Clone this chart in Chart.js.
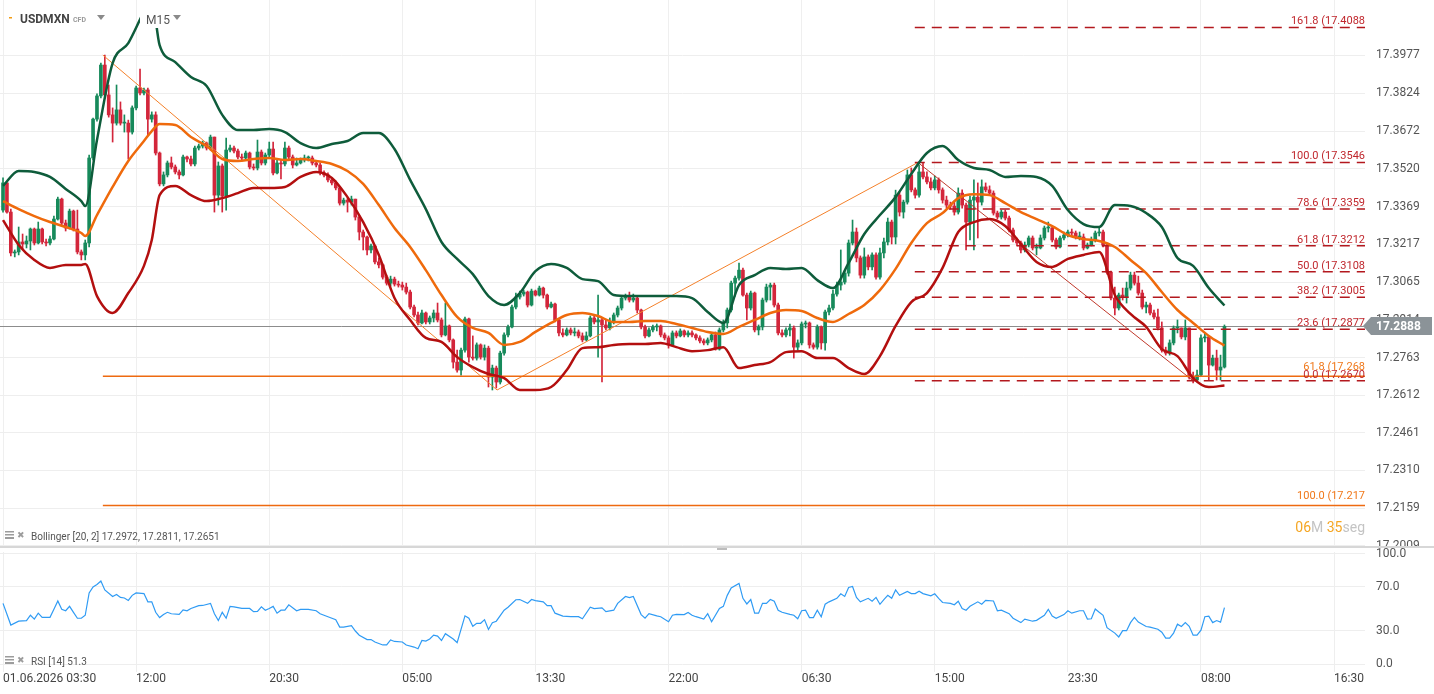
<!DOCTYPE html>
<html>
<head>
<meta charset="utf-8">
<title>USDMXN M15</title>
<script src="https://cdn.jsdelivr.net/npm/chart.js@4.4.1/dist/chart.umd.min.js"></script>
<style>
  html, body { margin: 0; padding: 0; background: #fff; }
  body { width: 1434px; height: 694px; position: relative; overflow: hidden; }
  canvas { position: absolute; left: 0; }
  #mainChart { top: 0; }
  #rsiChart { top: 548px; }
  #sep { position: absolute; left: 0; top: 546px; width: 1434px; height: 2px; background: #d7d7d7; }
  #grip { position: absolute; left: 717px; top: 548px; width: 10px; height: 2px; background: #bdbdbd; }
</style>
</head>
<body>
<canvas id="mainChart" width="1434" height="547"></canvas>
<canvas id="rsiChart" width="1434" height="146"></canvas>
<div id="sep"></div>
<div id="grip"></div>
<script>
/** DATA */
// time axis, one step = one 15 minute bar
var timeTickBars = [0, 34, 68, 102, 136, 170, 204, 238, 272, 306, 340];
var timeTickLabels = ['01.06.2026 03:30', '12:00', '20:30', '05:00', '13:30', '22:00', '06:30', '15:00', '23:30', '08:00', '16:30'];
var priceTicks = [17.2009, 17.2159, 17.2310, 17.2461, 17.2612, 17.2763, 17.2914, 17.3065, 17.3217, 17.3369, 17.3520, 17.3672, 17.3824, 17.3977];
var rsiTicks = [0, 30, 70, 100];

// candles (open = previous close)
var firstOpen = 17.3355;
var closes = [
    17.3464, 17.3347, 17.3183, 17.3187, 17.3227, 17.3219, 17.3231, 17.3279, 17.3223, 17.3279,
    17.3227, 17.3223, 17.3239, 17.3319, 17.3399, 17.3303, 17.3283, 17.3351, 17.3279, 17.3187,
    17.3175, 17.3223, 17.3564, 17.3720, 17.3813, 17.3937, 17.3817, 17.3737, 17.3704, 17.3757,
    17.3704, 17.3704, 17.3668, 17.3765, 17.3845, 17.3825, 17.3837, 17.3720, 17.3737, 17.3584,
    17.3460, 17.3496, 17.3544, 17.3528, 17.3508, 17.3496, 17.3568, 17.3560, 17.3540, 17.3604,
    17.3612, 17.3624, 17.3604, 17.3648, 17.3415, 17.3532, 17.3411, 17.3596, 17.3604, 17.3592,
    17.3568, 17.3564, 17.3584, 17.3528, 17.3524, 17.3588, 17.3544, 17.3576, 17.3600, 17.3504,
    17.3544, 17.3540, 17.3604, 17.3568, 17.3536, 17.3544, 17.3556, 17.3564, 17.3564, 17.3544,
    17.3536, 17.3504, 17.3496, 17.3476, 17.3464, 17.3444, 17.3383, 17.3395, 17.3387, 17.3399,
    17.3327, 17.3267, 17.3247, 17.3195, 17.3211, 17.3147, 17.3135, 17.3086, 17.3062, 17.3078,
    17.3058, 17.3054, 17.3046, 17.3026, 17.2966, 17.2934, 17.2902, 17.2942, 17.2906, 17.2922,
    17.2942, 17.2914, 17.2854, 17.2890, 17.2834, 17.2745, 17.2713, 17.2793, 17.2918, 17.2765,
    17.2761, 17.2814, 17.2765, 17.2801, 17.2685, 17.2721, 17.2665, 17.2781, 17.2854, 17.2886,
    17.2966, 17.3006, 17.3018, 17.3026, 17.2974, 17.3030, 17.3014, 17.3042, 17.3014, 17.2966,
    17.2978, 17.2914, 17.2862, 17.2854, 17.2874, 17.2862, 17.2866, 17.2850, 17.2834, 17.2850,
    17.2922, 17.2906, 17.2914, 17.2894, 17.2882, 17.2906, 17.2934, 17.2962, 17.3002, 17.3010,
    17.2994, 17.3002, 17.2954, 17.2886, 17.2850, 17.2874, 17.2886, 17.2890, 17.2854, 17.2842,
    17.2814, 17.2862, 17.2850, 17.2870, 17.2854, 17.2862, 17.2854, 17.2842, 17.2830, 17.2822,
    17.2834, 17.2854, 17.2797, 17.2874, 17.2902, 17.2954, 17.3062, 17.3082, 17.3114, 17.3014,
    17.2962, 17.3022, 17.2874, 17.2886, 17.2994, 17.3046, 17.3054, 17.2974, 17.2862, 17.2854,
    17.2874, 17.2882, 17.2805, 17.2822, 17.2898, 17.2902, 17.2814, 17.2805, 17.2886, 17.2822,
    17.2946, 17.2962, 17.3018, 17.3054, 17.3066, 17.3102, 17.3223, 17.3267, 17.3163, 17.3094,
    17.3167, 17.3127, 17.3175, 17.3086, 17.3183, 17.3227, 17.3307, 17.3247, 17.3415, 17.3347,
    17.3387, 17.3496, 17.3436, 17.3415, 17.3508, 17.3488, 17.3468, 17.3444, 17.3476, 17.3436,
    17.3395, 17.3375, 17.3371, 17.3347, 17.3423, 17.3375, 17.3307, 17.3395, 17.3407, 17.3387,
    17.3448, 17.3436, 17.3423, 17.3343, 17.3327, 17.3347, 17.3323, 17.3275, 17.3235, 17.3223,
    17.3195, 17.3215, 17.3243, 17.3203, 17.3203, 17.3243, 17.3283, 17.3283, 17.3235, 17.3207,
    17.3243, 17.3255, 17.3267, 17.3263, 17.3247, 17.3247, 17.3203, 17.3215, 17.3235, 17.3263,
    17.3267, 17.3215, 17.3106, 17.3002, 17.2962, 17.3014, 17.3006, 17.3042, 17.3094, 17.3062,
    17.3022, 17.2966, 17.2974, 17.2942, 17.2926, 17.2882, 17.2793, 17.2781, 17.2822, 17.2882,
    17.2882, 17.2846, 17.2882, 17.2685, 17.2673, 17.2693, 17.2842, 17.2846, 17.2733, 17.2761,
    17.2713, 17.2725, 17.2888
];
var highs = [
    17.3484, 17.3464, 17.3359, 17.3195, 17.3287, 17.3259, 17.3251, 17.3283, 17.3283, 17.3307,
    17.3283, 17.3239, 17.3251, 17.3331, 17.3407, 17.3403, 17.3315, 17.3359, 17.3355, 17.3355,
    17.3195, 17.3235, 17.3576, 17.3724, 17.3821, 17.3945, 17.3977, 17.3857, 17.3765, 17.3857,
    17.3789, 17.3737, 17.3716, 17.3773, 17.3853, 17.3921, 17.3845, 17.3845, 17.3749, 17.3749,
    17.3588, 17.3508, 17.3552, 17.3568, 17.3536, 17.3516, 17.3576, 17.3572, 17.3572, 17.3612,
    17.3620, 17.3632, 17.3628, 17.3656, 17.3648, 17.3548, 17.3540, 17.3644, 17.3616, 17.3612,
    17.3600, 17.3580, 17.3592, 17.3588, 17.3540, 17.3636, 17.3596, 17.3584, 17.3628, 17.3628,
    17.3556, 17.3556, 17.3628, 17.3612, 17.3576, 17.3564, 17.3564, 17.3576, 17.3572, 17.3572,
    17.3552, 17.3544, 17.3512, 17.3504, 17.3484, 17.3472, 17.3448, 17.3403, 17.3403, 17.3411,
    17.3399, 17.3335, 17.3275, 17.3251, 17.3219, 17.3215, 17.3163, 17.3139, 17.3094, 17.3090,
    17.3086, 17.3070, 17.3066, 17.3062, 17.3034, 17.2974, 17.2946, 17.2954, 17.2946, 17.2930,
    17.2954, 17.2982, 17.2922, 17.2982, 17.2894, 17.2838, 17.2793, 17.2801, 17.2926, 17.2922,
    17.2850, 17.2822, 17.2818, 17.2814, 17.2809, 17.2733, 17.2729, 17.2789, 17.2862, 17.2894,
    17.2974, 17.3022, 17.3030, 17.3034, 17.3030, 17.3038, 17.3034, 17.3050, 17.3046, 17.3018,
    17.2986, 17.2982, 17.2918, 17.2878, 17.2882, 17.2882, 17.2882, 17.2874, 17.2862, 17.2866,
    17.2930, 17.2934, 17.3014, 17.2922, 17.2914, 17.2922, 17.2942, 17.2970, 17.3010, 17.3018,
    17.3026, 17.3018, 17.3006, 17.2958, 17.2894, 17.2882, 17.2894, 17.2898, 17.2894, 17.2862,
    17.2850, 17.2870, 17.2870, 17.2878, 17.2874, 17.2870, 17.2870, 17.2858, 17.2850, 17.2838,
    17.2842, 17.2862, 17.2866, 17.2882, 17.2914, 17.2962, 17.3070, 17.3090, 17.3142, 17.3122,
    17.3022, 17.3030, 17.3026, 17.2894, 17.3002, 17.3058, 17.3062, 17.3062, 17.2982, 17.2874,
    17.2882, 17.2898, 17.2890, 17.2834, 17.2906, 17.2910, 17.2906, 17.2822, 17.2894, 17.2890,
    17.2954, 17.2974, 17.3034, 17.3066, 17.3195, 17.3114, 17.3235, 17.3315, 17.3283, 17.3171,
    17.3203, 17.3175, 17.3183, 17.3183, 17.3203, 17.3243, 17.3323, 17.3315, 17.3435, 17.3427,
    17.3395, 17.3516, 17.3524, 17.3444, 17.3536, 17.3544, 17.3508, 17.3484, 17.3492, 17.3484,
    17.3444, 17.3411, 17.3387, 17.3391, 17.3444, 17.3436, 17.3383, 17.3411, 17.3476, 17.3464,
    17.3476, 17.3464, 17.3452, 17.3432, 17.3351, 17.3355, 17.3355, 17.3331, 17.3283, 17.3243,
    17.3231, 17.3227, 17.3251, 17.3251, 17.3219, 17.3255, 17.3291, 17.3307, 17.3291, 17.3243,
    17.3251, 17.3267, 17.3275, 17.3279, 17.3271, 17.3267, 17.3259, 17.3223, 17.3247, 17.3271,
    17.3283, 17.3275, 17.3223, 17.3110, 17.3046, 17.3022, 17.3042, 17.3066, 17.3106, 17.3106,
    17.3090, 17.3034, 17.2986, 17.2982, 17.2954, 17.2958, 17.2906, 17.2805, 17.2834, 17.2890,
    17.2914, 17.2882, 17.2914, 17.2882, 17.2705, 17.2713, 17.2854, 17.2862, 17.2850, 17.2773,
    17.2793, 17.2773, 17.2894
];
var lows = [
    17.3347, 17.3343, 17.3171, 17.3167, 17.3175, 17.3195, 17.3203, 17.3195, 17.3215, 17.3219,
    17.3219, 17.3211, 17.3215, 17.3235, 17.3315, 17.3291, 17.3271, 17.3279, 17.3271, 17.3179,
    17.3155, 17.3155, 17.3207, 17.3556, 17.3712, 17.3805, 17.3809, 17.3728, 17.3628, 17.3696,
    17.3696, 17.3668, 17.3560, 17.3660, 17.3757, 17.3817, 17.3817, 17.3656, 17.3708, 17.3576,
    17.3452, 17.3452, 17.3488, 17.3520, 17.3500, 17.3480, 17.3492, 17.3548, 17.3532, 17.3532,
    17.3596, 17.3604, 17.3596, 17.3596, 17.3347, 17.3375, 17.3347, 17.3355, 17.3588, 17.3584,
    17.3560, 17.3556, 17.3556, 17.3520, 17.3516, 17.3516, 17.3536, 17.3536, 17.3568, 17.3496,
    17.3500, 17.3480, 17.3532, 17.3560, 17.3524, 17.3532, 17.3540, 17.3548, 17.3552, 17.3536,
    17.3528, 17.3496, 17.3488, 17.3468, 17.3456, 17.3436, 17.3375, 17.3375, 17.3347, 17.3375,
    17.3315, 17.3235, 17.3195, 17.3175, 17.3183, 17.3139, 17.3123, 17.3078, 17.3054, 17.3050,
    17.3050, 17.3046, 17.3034, 17.3018, 17.2958, 17.2926, 17.2894, 17.2898, 17.2898, 17.2898,
    17.2906, 17.2906, 17.2846, 17.2850, 17.2826, 17.2721, 17.2705, 17.2693, 17.2785, 17.2745,
    17.2753, 17.2753, 17.2757, 17.2753, 17.2645, 17.2633, 17.2641, 17.2657, 17.2773, 17.2846,
    17.2882, 17.2958, 17.2998, 17.3010, 17.2966, 17.2970, 17.3010, 17.3010, 17.3002, 17.2958,
    17.2962, 17.2906, 17.2850, 17.2846, 17.2850, 17.2854, 17.2850, 17.2842, 17.2826, 17.2830,
    17.2846, 17.2898, 17.2765, 17.2665, 17.2874, 17.2874, 17.2898, 17.2926, 17.2954, 17.2994,
    17.2986, 17.2986, 17.2942, 17.2878, 17.2842, 17.2846, 17.2866, 17.2870, 17.2846, 17.2834,
    17.2801, 17.2810, 17.2842, 17.2846, 17.2846, 17.2846, 17.2846, 17.2834, 17.2822, 17.2814,
    17.2814, 17.2826, 17.2793, 17.2793, 17.2866, 17.2882, 17.2946, 17.3010, 17.3074, 17.3010,
    17.2914, 17.2954, 17.2866, 17.2854, 17.2874, 17.2986, 17.2994, 17.2966, 17.2854, 17.2846,
    17.2846, 17.2850, 17.2761, 17.2793, 17.2814, 17.2882, 17.2801, 17.2797, 17.2797, 17.2797,
    17.2793, 17.2934, 17.2954, 17.3010, 17.3034, 17.3058, 17.3090, 17.3215, 17.3147, 17.3082,
    17.3082, 17.3115, 17.3115, 17.3078, 17.3078, 17.3163, 17.3215, 17.3219, 17.3219, 17.3331,
    17.3323, 17.3379, 17.3428, 17.3403, 17.3407, 17.3480, 17.3460, 17.3436, 17.3436, 17.3423,
    17.3383, 17.3363, 17.3359, 17.3335, 17.3339, 17.3363, 17.3195, 17.3235, 17.3195, 17.3243,
    17.3375, 17.3428, 17.3415, 17.3335, 17.3319, 17.3319, 17.3315, 17.3267, 17.3227, 17.3211,
    17.3183, 17.3187, 17.3207, 17.3195, 17.3175, 17.3199, 17.3235, 17.3267, 17.3227, 17.3199,
    17.3203, 17.3235, 17.3247, 17.3251, 17.3239, 17.3235, 17.3195, 17.3199, 17.3211, 17.3227,
    17.3251, 17.3207, 17.3098, 17.2994, 17.2934, 17.2954, 17.2994, 17.2982, 17.3034, 17.3054,
    17.3014, 17.2958, 17.2942, 17.2934, 17.2918, 17.2874, 17.2785, 17.2773, 17.2773, 17.2814,
    17.2862, 17.2838, 17.2834, 17.2677, 17.2661, 17.2665, 17.2689, 17.2826, 17.2673, 17.2729,
    17.2673, 17.2673, 17.2721
];

// Bollinger [20, 2], read at these bars
var bbBars = [0, 4, 8, 12, 16, 20, 21, 24, 28, 32, 36, 38,
    40, 44, 48, 52, 56, 60, 64, 68, 72, 76, 80, 84, 88, 92, 96, 100, 104, 108, 112, 116,
    120, 124, 128, 132, 136, 140, 144, 148, 152, 156, 160, 164, 168, 172, 176, 180, 184, 188, 192, 196,
    200, 204, 208, 212, 216, 220, 224, 228, 232, 236, 240, 244, 248, 252, 256, 260, 264, 268, 272, 276,
    280, 284, 288, 292, 296, 300, 304, 308, 312];
var bbUpper = [17.3452, 17.3512, 17.3508, 17.3488, 17.3440, 17.3391, 17.3371, 17.3636, 17.3945, 17.4025, 17.4150, 17.4198,
    17.4017, 17.3949, 17.3889, 17.3853, 17.3737, 17.3676, 17.3676, 17.3680, 17.3668, 17.3624,
    17.3604, 17.3620, 17.3632, 17.3664, 17.3664, 17.3600, 17.3476, 17.3359, 17.3227, 17.3159,
    17.3098, 17.3010, 17.2974, 17.3022, 17.3110, 17.3139, 17.3123, 17.3078, 17.3070, 17.3014,
    17.3010, 17.3010, 17.3010, 17.3010, 17.3002, 17.2946, 17.2902, 17.3054, 17.3094, 17.3123,
    17.3119, 17.3123, 17.3074, 17.3042, 17.3143, 17.3259, 17.3335, 17.3407, 17.3500, 17.3584,
    17.3612, 17.3556, 17.3524, 17.3516, 17.3488, 17.3492, 17.3488, 17.3452, 17.3355, 17.3299,
    17.3287, 17.3375, 17.3371, 17.3343, 17.3287, 17.3163, 17.3131, 17.3042, 17.2972];
var bbMiddle = [17.3391, 17.3359, 17.3331, 17.3307, 17.3287, 17.3263, 17.3251, 17.3335, 17.3448, 17.3552, 17.3632, 17.3672,
    17.3700, 17.3696, 17.3648, 17.3612, 17.3560, 17.3552, 17.3560, 17.3564, 17.3556, 17.3560,
    17.3552, 17.3540, 17.3512, 17.3460, 17.3375, 17.3283, 17.3207, 17.3114, 17.3014, 17.2926,
    17.2882, 17.2862, 17.2814, 17.2826, 17.2866, 17.2902, 17.2934, 17.2942, 17.2930, 17.2906,
    17.2906, 17.2910, 17.2910, 17.2898, 17.2882, 17.2866, 17.2858, 17.2886, 17.2914, 17.2942,
    17.2954, 17.2950, 17.2922, 17.2906, 17.2938, 17.2974, 17.3034, 17.3119, 17.3223, 17.3303,
    17.3343, 17.3403, 17.3419, 17.3415, 17.3383, 17.3347, 17.3319, 17.3291, 17.3255, 17.3239,
    17.3231, 17.3207, 17.3155, 17.3102, 17.3026, 17.2954, 17.2902, 17.2850, 17.2811];
var bbLower = [17.3315, 17.3215, 17.3155, 17.3123, 17.3135, 17.3135, 17.3139, 17.3010, 17.2942, 17.3022, 17.3131, 17.3235,
    17.3415, 17.3452, 17.3415, 17.3391, 17.3403, 17.3423, 17.3444, 17.3444, 17.3448, 17.3488,
    17.3508, 17.3484, 17.3407, 17.3307, 17.3175, 17.3002, 17.2914, 17.2842, 17.2826, 17.2765,
    17.2725, 17.2697, 17.2681, 17.2633, 17.2633, 17.2645, 17.2713, 17.2801, 17.2805, 17.2814,
    17.2818, 17.2818, 17.2822, 17.2805, 17.2789, 17.2793, 17.2805, 17.2721, 17.2733, 17.2745,
    17.2785, 17.2789, 17.2761, 17.2761, 17.2721, 17.2697, 17.2769, 17.2890, 17.2986, 17.3022,
    17.3123, 17.3267, 17.3307, 17.3319, 17.3291, 17.3219, 17.3147, 17.3127, 17.3159, 17.3175,
    17.3187, 17.3014, 17.2938, 17.2886, 17.2797, 17.2769, 17.2681, 17.2645, 17.2651];

// RSI [14]
var rsiBars = [0, 2, 4, 6, 7, 8, 9, 10, 12, 13, 14, 15, 16, 17, 18, 19, 20, 21, 22, 23,
    24, 25, 26, 28, 29, 30, 31, 32, 33, 34, 36, 37, 38, 39, 40, 41, 42, 43, 45, 46,
    47, 48, 50, 51, 53, 54, 55, 56, 57, 58, 59, 61, 63, 64, 65, 66, 67, 68, 69, 70,
    71, 72, 73, 75, 76, 78, 80, 81, 83, 85, 86, 87, 89, 90, 91, 93, 94, 95, 97, 98,
    99, 100, 102, 103, 105, 106, 107, 108, 109, 110, 111, 112, 113, 115, 116, 118, 119, 120, 121, 122,
    123, 124, 125, 126, 128, 129, 131, 132, 134, 135, 136, 138, 139, 140, 141, 143, 145, 147, 148, 150,
    151, 153, 154, 156, 157, 159, 160, 161, 163, 164, 165, 167, 168, 170, 171, 172, 174, 175, 176, 177,
    179, 180, 181, 183, 184, 185, 186, 188, 189, 190, 191, 192, 193, 194,
    195, 196, 197, 198, 199, 201, 202, 203, 204, 205, 206, 207, 208, 209, 210, 211, 213, 214, 215, 216,
    217, 218, 219, 221, 222, 223, 224, 225, 226, 227, 228, 229, 231, 232, 233, 234, 235, 237, 238, 239,
    240, 242, 243, 244, 245, 246, 247, 249, 250, 251, 253, 254, 255, 257, 258, 260, 261, 263, 264, 266,
    267, 268, 269, 271, 272, 273, 275, 276, 277, 278, 279, 280, 281, 282, 284, 285, 286, 287, 288, 289,
    290, 292, 293, 295, 296, 297, 298, 299, 300, 301, 302, 303, 304, 305, 306, 307, 308, 309, 310, 311, 312];
var rsiValues = [55.1, 35.4, 39, 39.5, 44.3, 40.8, 46.2, 42.4, 42.4, 49.7, 57.3, 49.7, 48.4, 52.4, 47, 41.6, 41.6, 44.3, 64.6, 70,
    72.2, 75.4, 67.3, 61.4, 63.2, 60.5, 60, 57.8, 62.4, 64.6, 64, 56.5, 56.5, 47, 42.2, 44.9, 47, 45.7, 45.1, 49.2,
    48.4, 50.5, 53, 53.2, 55.1, 45.7, 39.5, 47, 41.6, 52.4, 51.9, 50.5, 50.5, 47.6, 47.8, 51.9, 48.9, 50.5, 52.4, 46.2,
    48.9, 48.9, 53.8, 48.4, 49.7, 49.7, 48.4, 45.7, 43, 40.3, 33.5, 33.5, 34.9, 30, 26.2, 22.2, 22.2, 20, 17.3, 17.3,
    21.9, 20.5, 20, 17.3, 15.4, 13.8, 21.4, 20.8, 22.7, 26.2, 25.4, 21.4, 27.6, 22.7, 19.5, 43.8, 41.6, 34.3, 37, 37,
    40.3, 31.4, 37.6, 38.9, 48.9, 51.6, 58.4, 58.6, 55.1, 58.6, 57.6, 56.5, 53, 53, 46.2, 43.5, 43, 43, 41.1, 51.6,
    50.3, 51.1, 47.6, 48.9, 55.1, 61.4, 60.3, 61.4, 44.9, 41.6, 45.7, 43.8, 43, 38.4, 44.3, 45.1, 44.9, 46.8, 44.3, 43,
    40.8, 45.7, 38.4, 50.5, 52.4, 62.4, 69.2, 73.2, 59.7, 54.6, 58.6, 46.2, 46.2, 55.1,
    55.1, 58.6, 57, 48.9, 47, 45.1, 44.3, 41.1, 48.4, 48.9, 42.2, 42.2, 48.9, 43, 54.3, 56.5, 59.7, 63.8, 61.4, 69.5,
    70.5, 60.5, 56.5, 59.7, 57, 60.5, 54.3, 58.6, 62.4, 59.7, 67.3, 62.4, 65.9, 64, 64, 66.2, 64, 61.9, 63.8, 59.7,
    55.9, 55.1, 53.8, 57, 50.5, 48.9, 52.4, 56.5, 54.3, 57.8, 57.3, 48.4, 48.9, 45.7, 41.6, 37.6, 40.8, 38.9, 39.7, 44.3,
    49.7, 43.5, 41.6, 44.9, 48.4, 46.2, 48.4, 48.4, 40.8, 41.1, 50, 47, 44.3, 33, 28.1, 24.6, 30.3, 30.3, 37.6, 42.4,
    38.1, 34.1, 33.5, 31.6, 28.9, 23.5, 23.5, 28.1, 36.2, 34.1, 37.6, 34.3, 26.2, 26.2, 30.8, 43, 43.5, 37.6, 39.5, 38.1, 51.3];

// fibonacci retracement drawn from the 15:00 high
var fibLevels = ['161.8', '100.0', '78.6', '61.8', '50.0', '38.2', '23.6', '0.0'];
var fibPrices = [17.4088, 17.3546, 17.3359, 17.3212, 17.3108, 17.3005, 17.2877, 17.2670];
var fibStartBar = 232.9;
// older fibonacci (orange)
var extLevels = ['61.8', '100.0'];
var extPrices = [17.2688, 17.2170];
var extStartBar = 25.5;
// trend lines
var trendBars = [25.5, 126.2, 233.7];
var trendPrices = [17.3977, 17.2633, 17.3546];
var downBars = [233.7, 304];
var downPrices = [17.3546, 17.2670];

/** SETUP */
Chart.defaults.font.family = "Roboto, 'Noto Sans', sans-serif";
var xMin = -0.77, xMax = 347.9;
var lastPrice = closes[closes.length - 1];
var greenColor = '#178a5b', redColor = '#d3263b';

var opens = closes.map(function(c, i) { return i === 0 ? firstOpen : closes[i - 1]; });
var candleColors = closes.map(function(c, i) { return c >= opens[i] ? greenColor : redColor; });
var bodyData = closes.map(function(c, i) { return {x: i, y: [opens[i], c]}; });
var wickData = closes.map(function(c, i) { return {x: i, y: [lows[i], highs[i]]}; });

function pts(xs, ys) {
    return xs.map(function(x, i) { return {x: x, y: ys[i]}; });
}
function hline(x0, price) {
    return [{x: x0, y: price}, {x: xMax + 1, y: price}];
}

var datasets = [
    {type: 'line', data: pts(bbBars, bbUpper), borderColor: '#0e5c3b', borderWidth: 2.5, order: 1},
    {type: 'line', data: pts(bbBars, bbMiddle), borderColor: '#ef6a0c', borderWidth: 2.5, order: 1},
    {type: 'line', data: pts(bbBars, bbLower), borderColor: '#b30f0f', borderWidth: 2.5, order: 1},
    {type: 'line', data: pts(trendBars, trendPrices), borderColor: '#f4802a', borderWidth: 1, tension: 0, order: 3},
    {type: 'line', data: pts(downBars, downPrices), borderColor: '#c0392b', borderWidth: 1, tension: 0, order: 3}
];
fibPrices.forEach(function(p) {
    datasets.push({type: 'line', data: hline(fibStartBar, p), borderColor: '#b3181e', borderWidth: 1.5,
        borderDash: [10, 7], tension: 0, order: 2});
});
extPrices.forEach(function(p) {
    datasets.push({type: 'line', data: hline(extStartBar, p), borderColor: '#ee6a10', borderWidth: 1.5, tension: 0, order: 2});
});
datasets.forEach(function(d) {
    d.pointRadius = 0;
    d.fill = false;
    if (d.tension === undefined) {
        d.cubicInterpolationMode = 'monotone';
    }
});
datasets.push({type: 'bar', data: bodyData, backgroundColor: candleColors, barThickness: 3, grouped: false,
    minBarLength: 1, borderWidth: 0, order: 10});
datasets.push({type: 'bar', data: wickData, backgroundColor: candleColors, barThickness: 1, grouped: false,
    borderWidth: 0, order: 11});

function timeTicks(scale) {
    scale.ticks = timeTickBars.map(function(v) { return {value: v}; });
}

//texts, tags and labels of the price panel
var mainOverlay = {
    id: 'mainOverlay',
    beforeDatasetsDraw: function(chart) {
        var ctx = chart.ctx, area = chart.chartArea;
        var y = Math.round(chart.scales.y.getPixelForValue(lastPrice)) + 0.5;
        ctx.save();
        ctx.strokeStyle = '#8c8c8c';
        ctx.lineWidth = 1;
        ctx.beginPath();
        ctx.moveTo(area.left, y);
        ctx.lineTo(area.right, y);
        ctx.stroke();
        ctx.restore();
    },
    afterDraw: function(chart) {
        var ctx = chart.ctx, area = chart.chartArea, ys = chart.scales.y;
        ctx.save();
        ctx.textAlign = 'right';
        ctx.textBaseline = 'alphabetic';
        ctx.font = '11px Roboto, sans-serif';
        ctx.fillStyle = '#c0272d';
        fibLevels.forEach(function(lv, i) {
            var y = ys.getPixelForValue(fibPrices[i]);
            ctx.fillText(lv + ' (' + fibPrices[i].toFixed(4), area.right, y - 3);
        });
        ctx.fillStyle = '#f0781a';
        extLevels.forEach(function(lv, i) {
            var y = ys.getPixelForValue(extPrices[i]);
            var txt = (Math.floor(extPrices[i] * 1000 + 1e-6) / 1000).toFixed(3);
            ctx.fillText(lv + ' (' + txt, area.right, y - 6);
        });

        //symbol header
        ctx.fillStyle = '#ffffff';
        ctx.fillRect(140, 0, 50, 28);
        ctx.textAlign = 'left';
        ctx.fillStyle = '#f39c12';
        ctx.fillRect(9, 17, 3, 1.5);
        ctx.fillStyle = '#444';
        ctx.font = 'bold 12px Roboto, sans-serif';
        ctx.fillText('USDMXN', 20, 23);
        ctx.fillStyle = '#9a9a9a';
        ctx.font = 'bold 7px Roboto, sans-serif';
        ctx.fillText('CFD', 73, 22);
        ctx.fillStyle = '#555';
        ctx.font = '12px Roboto, sans-serif';
        ctx.fillText('M15', 146, 24);
        ctx.fillStyle = '#8a8a8a';
        [97, 173].forEach(function(x) {
            ctx.beginPath();
            ctx.moveTo(x, 15);
            ctx.lineTo(x + 8, 15);
            ctx.lineTo(x + 4, 20);
            ctx.closePath();
            ctx.fill();
        });

        //indicator legend
        drawIndicatorIcon(ctx, 536);
        ctx.fillStyle = '#555';
        ctx.font = '10px Roboto, sans-serif';
        ctx.fillText('Bollinger [20, 2] ' + bbUpper[bbUpper.length - 1].toFixed(4) + ', ' +
            bbMiddle[bbMiddle.length - 1].toFixed(4) + ', ' + bbLower[bbLower.length - 1].toFixed(4), 31, 540);

        //candle countdown
        var parts = [['06', '#f5a623'], ['M ', '#c4c4c4'], ['35', '#f5a623'], ['seg', '#c4c4c4']];
        ctx.font = '14px Roboto, sans-serif';
        var total = 0;
        parts.forEach(function(p) { total += ctx.measureText(p[0]).width; });
        var tx = area.right - total;
        parts.forEach(function(p) {
            ctx.fillStyle = p[1];
            ctx.fillText(p[0], tx, 532);
            tx += ctx.measureText(p[0]).width;
        });

        //last price tag
        var py = Math.round(ys.getPixelForValue(lastPrice));
        ctx.fillStyle = '#8b9398';
        ctx.beginPath();
        ctx.moveTo(area.right - 2, py);
        ctx.lineTo(area.right + 6, py - 9);
        ctx.lineTo(1432, py - 9);
        ctx.lineTo(1432, py + 9);
        ctx.lineTo(area.right + 6, py + 9);
        ctx.closePath();
        ctx.fill();
        ctx.fillStyle = '#ffffff';
        ctx.font = 'bold 12px Roboto, sans-serif';
        ctx.textBaseline = 'middle';
        ctx.fillText(lastPrice.toFixed(4), area.right + 11, py + 1);
        ctx.restore();
    }
};

function drawIndicatorIcon(ctx, y) {
    ctx.save();
    ctx.fillStyle = '#9c9c9c';
    ctx.fillRect(5, y - 5, 9, 1.5);
    ctx.fillRect(5, y - 2, 9, 1.5);
    ctx.fillRect(5, y + 1, 9, 2);
    ctx.font = 'bold 9px DejaVu Sans, sans-serif';
    ctx.textAlign = 'left';
    ctx.textBaseline = 'middle';
    ctx.fillText('\u2716', 17, y);
    ctx.restore();
}

var rsiOverlay = {
    id: 'rsiOverlay',
    afterDraw: function(chart) {
        var ctx = chart.ctx;
        drawIndicatorIcon(ctx, 113);
        ctx.save();
        ctx.fillStyle = '#555';
        ctx.font = '10px Roboto, sans-serif';
        ctx.textAlign = 'left';
        ctx.fillText('RSI [14] ' + rsiValues[rsiValues.length - 1].toFixed(1), 31, 117);
        ctx.restore();
    }
};

/** PRICE CHART */
var mainChart = new Chart(document.getElementById('mainChart'), {
    type: 'bar',
    data: {datasets: datasets},
    options: {
        responsive: false,
        animation: false,
        layout: {padding: 0},
        plugins: {legend: {display: false}, tooltip: {enabled: false}},
        scales: {
            x: {
                type: 'linear', min: xMin, max: xMax, offset: false,
                afterBuildTicks: timeTicks,
                grid: {color: '#efefef', drawTicks: false, offset: false},
                border: {display: false},
                ticks: {display: false}
            },
            y: {
                position: 'right', min: 17.2003, max: 17.4198,
                afterBuildTicks: function(s) { s.ticks = priceTicks.map(function(v) { return {value: v}; }); },
                afterFit: function(s) { s.width = 69; s.paddingTop = 0; s.paddingBottom = 0; },
                grid: {color: '#eeeeee', drawTicks: false},
                border: {display: false},
                ticks: {padding: 11, color: '#555', font: {size: 12},
                    callback: function(v) { return v.toFixed(4); }}
            }
        }
    },
    plugins: [mainOverlay]
});

/** RSI CHART */
var rsiChart = new Chart(document.getElementById('rsiChart'), {
    type: 'line',
    data: {
        datasets: [{
            data: pts(rsiBars, rsiValues),
            borderColor: '#2f9bf4', borderWidth: 1.2, pointRadius: 0, tension: 0, fill: false
        }]
    },
    options: {
        responsive: false,
        animation: false,
        layout: {padding: {top: 4, bottom: 8, left: 0, right: 0}},
        plugins: {legend: {display: false}, tooltip: {enabled: false}},
        scales: {
            x: {
                type: 'linear', min: xMin, max: xMax,
                afterBuildTicks: timeTicks,
                grid: {color: '#eeeeee', drawTicks: false},
                border: {display: false},
                ticks: {padding: 0, align: 'start', maxRotation: 0, autoSkip: false, color: '#444', font: {size: 12},
                    callback: function(v, i) { return timeTickLabels[i]; }}
            },
            y: {
                position: 'right', min: -6.9, max: 101.8,
                afterBuildTicks: function(s) { s.ticks = rsiTicks.map(function(v) { return {value: v}; }); },
                afterFit: function(s) { s.width = 69; s.paddingTop = 0; s.paddingBottom = 0; },
                grid: {color: '#eeeeee', drawTicks: false},
                border: {display: false},
                ticks: {padding: 11, color: '#555', font: {size: 12},
                    callback: function(v) { return v.toFixed(1); }}
            }
        }
    },
    plugins: [rsiOverlay]
});
</script>
</body>
</html>
